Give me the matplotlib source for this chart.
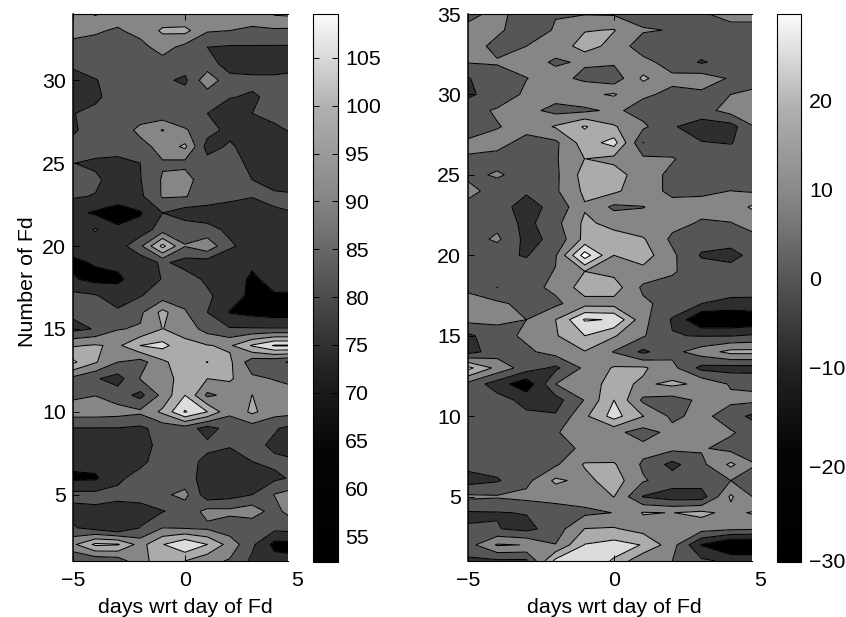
#!/usr/bin/env python3
# Two contour panels of Fd number vs days, gray fills with black contour lines
import numpy as np
import matplotlib
matplotlib.use("Agg")
import matplotlib.pyplot as plt
from matplotlib.cm import ScalarMappable
from matplotlib.colors import LinearSegmentedColormap, Normalize

plt.rcParams["font.family"] = ["Liberation Sans", "DejaVu Sans"]
plt.rcParams["font.size"] = 15.4

W, H = 846, 617

days = [-5, -4, -3, -2, -1, 0, 1, 2, 3, 4, 5]

# rows listed from the top of the panel down
left_rows = list(range(34, 0, -1))
left_values = [
    [84, 91, 84, 82, 83, 80, 82, 82, 83, 91, 92],
    [83, 81, 79, 83, 91.5, 93, 81, 80, 79, 78.5, 78],
    [77, 77, 76, 77, 84, 77, 70, 69, 69, 69, 69],
    [72, 75, 76, 76, 76, 75, 74, 66, 66, 66, 67],
    [66, 69.5, 74, 75, 72, 68, 87, 73, 72, 72, 73],
    [65, 67, 77, 75, 74, 75, 74, 70.5, 69, 72, 74],
    [69.5, 74, 74, 74, 73, 73, 70, 65, 70, 73, 75],
    [68.5, 75, 73, 83, 90.5, 81, 74, 67, 65, 68, 72],
    [73.5, 75, 76, 76, 84, 92, 66, 71.5, 65.5, 65, 67],
    [70.2, 68, 66, 70, 79, 77, 74, 75, 67, 65, 65],
    [75, 72, 65, 69.5, 81, 85, 72, 73, 70, 66, 66],
    [71, 69.5, 65, 68, 81, 80.5, 76, 73, 70.5, 72, 71],
    [63, 58.5, 55, 59, 70, 65, 65, 64, 64, 68.8, 70],
    [63, 71, 62, 64, 75, 76, 73, 68, 64, 63, 63],
    [64, 64, 65, 78, 103, 80.5, 87, 71.5, 66, 64, 64],
    [58, 61, 62, 63, 72, 66, 65, 63, 61, 61, 62],
    [61, 57, 58.5, 64, 70.5, 75, 68, 63, 59, 62, 63],
    [73, 71, 64, 69.5, 75, 76, 72, 64, 58, 59.5, 59],
    [72, 74, 72, 78, 93, 81, 70, 59.5, 57, 55, 55],
    [67, 70.7, 79.5, 81, 90.2, 86, 76, 71, 71, 71, 71],
    [89, 91, 88, 100, 103, 93, 90.5, 88.5, 101, 111, 111],
    [102, 91, 80, 76, 88, 96, 100.2, 92, 74, 72, 68],
    [77, 71, 66, 80.5, 88, 92, 90, 91.5, 82, 79.5, 78],
    [78, 79.8, 75, 67, 83, 100, 78, 83, 90.1, 85, 82],
    [85, 85, 84, 82, 92, 111, 100, 82, 92, 84, 83],
    [69.5, 69.5, 69.5, 68, 74, 75, 66, 74, 75, 71, 66],
    [65, 63, 64, 64, 75, 74, 72, 71, 73, 68, 64],
    [63, 64, 65, 68, 74, 73, 68, 65, 70, 72, 71],
    [58, 58.5, 68.5, 73, 75, 74, 66, 65, 66, 68, 72],
    [73, 73, 72, 72, 78, 83, 64, 66, 70, 80.5, 85],
    [67, 68, 67, 68, 69.5, 74, 83, 82.5, 86, 75, 90],
    [71, 66, 60, 70.2, 80, 79, 78, 74, 72, 73, 74],
    [88, 102, 101, 86, 99.5, 109, 100, 86, 72, 57, 57],
    [70, 72, 74, 88, 93, 90, 83, 79, 68, 64, 62],
]

right_rows = list(range(35, 0, -1))
right_values = [
    [-3, 3, -5, -0.5, -0.5, -1, -5, -5, -1, 3, 3],
    [3, 2, -6, 1, 9.3, 10.5, 1, -0.5, -5, -3, -3],
    [5, -3, 0, 3, 15, 6, -5, -6, -5, -4, -4],
    [0.5, 1, 3, -1, 1, 1.5, 3, -4, -11, -6, -5],
    [-10.5, -5, -0.2, 3, -2, -6, 12, 2, 5, -1, -5],
    [-12, -5, 1.5, 4, 8, 11, 1.5, -2, -2, 0, 4],
    [-3, 1, 3, -3, -2, 2, -4, -5, -4, 4, 7],
    [-3, -0.5, 3, 11, 21, 11, 2, -9, -15, -14, 3],
    [1, 3, -3, -2, 15, 24, -10.1, -6, -9.5, -10.5, -4],
    [-0.4, -3, -4, -1, 10.1, 7, 2, 0.7, -5, -5, -4],
    [-2, 1, -3, -2, 14, 15, 4, -2, -4, -3, -2],
    [3, -4, -9, -1.5, 12, 12, 4, -2, -1.5, 0.1, -2],
    [-3, -7, -13, -7.5, 9, -2, -0.2, 3, 3, 3, 15],
    [-3, -3, -13, -3, 12, 7, 3, 3, -1, -0.2, 3],
    [-5, 2, -13, -7.5, 13, 14, 11, -2, -6, -5, -1],
    [-4, -7.5, -10.8, -1, 35, 10, 14.7, 2, -11, -14, -4],
    [-4, -5, -5, 0.5, 10, 7, 7, 1, -5, -5, -5],
    [-1, -10.1, -3, 2, 15, 15, -2, -3, -4, -5, -7],
    [2, 2, -3, -2, 6, 6, 2, -4, -10, -13, -12],
    [3, 2, 0, 10, 31, 29.3, 3, -11, -30, -30, -28],
    [-12, -4, 2, 9, 20, 11, 1, -9.5, -10.5, -10.5, -8],
    [-14, -5, -2, 4, 9.5, -0.5, -12, -3, 5, 13, 13],
    [23, 7, -5, -12, 2, 11, 11.5, 3, -13, -14, -14],
    [-3, -15, -27, 0, 6, 13, 8.5, 12, 8, -1, -2],
    [-10, -6, -13, -14, 0.6, 20, -2, -4, 2, 2, 2],
    [-7, -7, -8, -9, 8, 24, 10.2, -2, 3, -5, -15],
    [-7, -7, -7, -1.5, 9.5, 2.5, -4, 3, 4, 1, -5],
    [-7, -7, -7, -3, 1.5, 3, 3, 2.5, 1, -3, -3],
    [-7, -6, -5, -1.5, 11, 11, -1.5, -13, -2.5, 12, -1],
    [-14, -11, -3, 12, 7, 15, 1, -5, -5, 0, -3],
    [2, 1, 3, 3, 4, 10.2, -10.5, -15, -15, 11.5, -4],
    [-11, -10.5, -9.5, -4, -2, 0.2, 10.6, 9.8, 12.5, 7, 12.5],
    [-9.5, -9.5, -13, -5, 10.2, 11, 6, 2, 4, 2, 1],
    [-4, 11, 9.7, 0.3, 20.5, 24, 19.5, 4, -20.5, -32, -32],
    [-12, -12, -12, 23, 26, 19, 1, 0, -8, -12, -12],
]

left_levels = [40, 60, 70, 80, 90, 100, 110, 130]
right_levels = [-50, -20, -10, 0, 10, 20, 30, 50]
band_grays = ["#000000", "#2e2e2e", "#565656", "#868686", "#ababab", "#dcdcdc", "#ffffff"]

left_cb_ticks = [55, 60, 65, 70, 75, 80, 85, 90, 95, 100, 105]
right_cb_ticks = [20, 10, 0, -10, -20]
right_cb_labels = [20, 10, 0, -10, -20, -30]
right_cb_label_pos = [20, 10, 0, -10, -21.1, -31.6]

# colorbar ramp is darker than a plain gray map at the low end
ramp = LinearSegmentedColormap.from_list(
    "ramp",
    [(0, "#000000"), (0.2, "#050505"), (0.35, "#222222"), (0.5, "#515151"),
     (0.67, "#878787"), (0.83, "#b0b0b0"), (1, "#fbfbfb")],
)


def box(x0, y0, x1, y1):
    return [x0 / W, 1 - y1 / H, (x1 - x0) / W, (y1 - y0) / H]


def panel(fig, rect, rows, values, levels, ylim, yticks, xmax):
    ax = fig.add_axes(box(*rect))
    z = np.array(values, dtype=float)
    ax.contourf(days, rows, z, levels=levels, colors=band_grays)
    ax.contour(days, rows, z, levels=levels[1:-1], colors="k", linewidths=0.75,
               linestyles="solid")
    ax.set_xlim(-5, xmax)
    ax.set_ylim(*ylim)
    ax.set_xticks([-5, 0])
    ax.set_yticks(yticks)
    ax.tick_params(direction="in", length=4, width=0.7, top=True, pad=5, labelsize=15.4)
    ax.tick_params(axis="x", pad=7)
    ax.spines["right"].set_visible(False)
    ax.spines["left"].set_linewidth(1.1)
    ax.text(5, -0.0175, "5", transform=ax.get_xaxis_transform(), ha="center", va="top",
            fontsize=15.4, clip_on=False)
    ax.set_xlabel("days wrt day of Fd", fontsize=15.4)
    ax.xaxis.set_label_coords(5 / (xmax + 5), -0.067)
    return ax


def bar(fig, rect, vmin, vmax):
    cax = fig.add_axes(box(*rect))
    sm = ScalarMappable(norm=Normalize(vmin, vmax), cmap=ramp)
    cb = fig.colorbar(sm, cax=cax)
    cb.outline.set_linewidth(0.8)
    return cb, cax


fig = plt.figure(figsize=(W / 100, H / 100), dpi=100)

ax1 = panel(fig, (73, 14, 288, 561), left_rows, left_values, left_levels, (1, 34),
            [5, 10, 15, 20, 25, 30], 4.6)
ax1.set_ylabel("Number of Fd", fontsize=15.4, labelpad=4)
ax1.yaxis.label.set_y(0.51)

ax2 = panel(fig, (468, 14, 752, 561), right_rows, right_values, right_levels, (1, 35),
            [5, 10, 15, 20, 25, 30, 35], 4.73)

cb1, cax1 = bar(fig, (313, 14, 338, 562), 52.3, 109.6)
cax1.set_yticks(left_cb_ticks)
cax1.tick_params(direction="in", length=4, width=0.7, left=True, right=True, pad=5, labelsize=15.4)

cb2, cax2 = bar(fig, (777, 14, 801, 562), -31.8, 29.7)
# the two lowest labels sit below their tick marks in the original
cax2.set_yticks(right_cb_label_pos)
cax2.set_yticklabels([str(v).replace("-", "\u2212") for v in right_cb_labels])
cax2.tick_params(axis="y", which="major", length=0, pad=6, labelsize=15.4)
cax2.set_yticks(right_cb_ticks, minor=True)
cax2.tick_params(axis="y", which="minor", direction="in", length=4, width=0.7, left=True, right=True)

fig.savefig("out.png", dpi=100)
